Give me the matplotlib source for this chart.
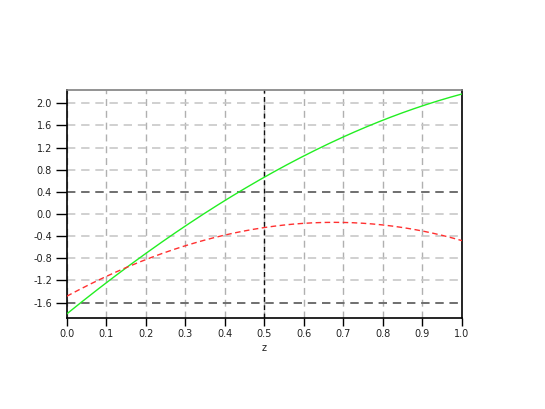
import numpy as np
import matplotlib
matplotlib.use('Agg')
import matplotlib.pyplot as plt

# values at z = 0.0 .. 1.0
z = [0.0, 0.1, 0.2, 0.3, 0.4, 0.5, 0.6, 0.7, 0.8, 0.9, 1.0]
green_vals = [-1.81, -1.24, -0.71, -0.22, 0.23, 0.67, 1.05, 1.40, 1.69, 1.95, 2.17]
red_vals = [-1.48, -1.14, -0.83, -0.57, -0.37, -0.25, -0.17, -0.155, -0.20, -0.31, -0.48]
x_ticks = [0.0, 0.1, 0.2, 0.3, 0.4, 0.5, 0.6, 0.7, 0.8, 0.9, 1.0]
y_ticks = [-1.6, -1.2, -0.8, -0.4, 0.0, 0.4, 0.8, 1.2, 1.6, 2.0]
dark_hlines = [0.4, -1.6]
dark_vline = 0.5

plt.rcParams['font.family'] = ['DejaVu Sans']

fig = plt.figure(figsize=(5.45, 4.09), dpi=100)
ax = fig.add_axes([0.1224, 0.2225, 0.7253, 0.5575])

# smooth the read-off points with a cubic through them
zz = np.linspace(0, 1, 200)
g = np.polyval(np.polyfit(z, green_vals, 3), zz)
r = np.polyval(np.polyfit(z, red_vals, 3), zz)

for x in x_ticks:
    ax.axvline(x, color='#b0b0b0', lw=1.0, ls=(0, (5, 3.5)), zorder=1)
for y in y_ticks:
    ax.axhline(y, color='#c8c8c8', lw=1.2, ls=(0, (5, 3.5)), zorder=1)
for y in dark_hlines:
    ax.axhline(y, color='#606060', lw=1.2, ls=(0, (5, 3.5)), zorder=2)
ax.axvline(dark_vline, color='#111111', lw=1.0, ls=(0, (3.5, 2.5)), zorder=2)

ax.plot(zz, g, color='#22ee22', lw=1.0, zorder=3)
ax.plot(zz, r, color='#ff3030', lw=1.0, ls=(0, (4, 2.5)), zorder=3)

ax.set_xlim(0, 1)
ax.set_ylim(-1.88, 2.24)
ax.set_xticks(x_ticks)
ax.set_yticks(y_ticks)
ax.set_xticklabels(['%.1f' % v for v in x_ticks])
ax.set_yticklabels(['%.1f' % v for v in y_ticks])
ax.tick_params(axis='y', direction='out', length=8, width=1.0, labelsize=7, pad=2.5,
               labelcolor='#222222')
ax.tick_params(axis='x', direction='out', length=5.5, width=1.0, labelsize=7, pad=2.5,
               labelcolor='#222222')
ax.set_xlabel('z', fontsize=7, labelpad=3, color='#222222')

for side in ['left', 'bottom', 'right']:
    ax.spines[side].set_color('#000000')
    ax.spines[side].set_linewidth(1.2)
ax.spines['top'].set_color('#808080')
ax.spines['top'].set_linewidth(1.2)

fig.savefig('out.png', dpi=100)
